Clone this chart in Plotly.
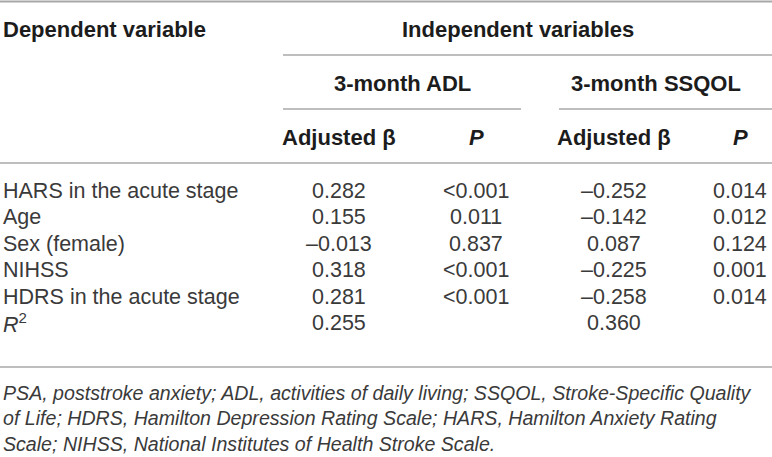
import plotly.graph_objects as go

# table content
row_labels = ["HARS in the acute stage", "Age", "Sex (female)", "NIHSS",
              "HDRS in the acute stage", "<i>R</i><sup>2</sup>"]
adl_beta = ["0.282", "0.155", "–0.013", "0.318", "0.281", "0.255"]
adl_p = ["&lt;0.001", "0.011", "0.837", "&lt;0.001", "&lt;0.001", ""]
ssqol_beta = ["–0.252", "–0.142", "0.087", "–0.225", "–0.258", "0.360"]
ssqol_p = ["0.014", "0.012", "0.124", "0.001", "0.014", ""]

dep_title = "Dependent variable"
indep_title = "Independent variables"
group_titles = ["3-month ADL", "3-month SSQOL"]
col_titles = ["Adjusted β", "<i>P</i>", "Adjusted β", "<i>P</i>"]

footnote = ("PSA, poststroke anxiety; ADL, activities of daily living; SSQOL, Stroke-Specific Quality<br>"
            "of Life; HDRS, Hamilton Depression Rating Scale; HARS, Hamilton Anxiety Rating<br>"
            "Scale; NIHSS, National Institutes of Health Stroke Scale.")

W, H = 772, 457
FONT = "Liberation Sans, Arial, sans-serif"
BOLD_COL = "#1c1c1c"
BODY_COL = "#3a3a3a"
RULE_COL = "#a8a8a8"

col_x = [339, 476, 614, 740]
group_x = [402, 656]
row_y0, row_step = 191, 26.4

fig = go.Figure()
fig.update_xaxes(range=[0, W], visible=False, fixedrange=True)
fig.update_yaxes(range=[H, 0], visible=False, fixedrange=True)

def txt(x, y, s, bold=False, size=21.5, anchor="center", color=None):
    fig.add_annotation(x=x, y=y, text=f"<b>{s}</b>" if bold else s, showarrow=False,
                       xanchor=anchor, yanchor="middle", align="left",
                       font=dict(family=FONT, size=size,
                                 color=color or (BOLD_COL if bold else BODY_COL)))

def rule(x0, x1, y, w=1.6):
    fig.add_shape(type="line", x0=x0, x1=x1, y0=y, y1=y,
                  line=dict(color=RULE_COL, width=w))

# header
txt(1, 29, dep_title, bold=True, size=22, anchor="left")
txt(518, 29, indep_title, bold=True, size=22)
for gx, g in zip(group_x, group_titles):
    txt(gx, 83, g, bold=True, size=22)
for cx, c in zip(col_x, col_titles):
    txt(cx, 137, c, bold=True, size=22)

# rules
rule(0, W, 1.5, 2.2)
rule(283, W, 55)
rule(283, 521, 109)
rule(559, W, 109)
rule(0, W, 163)
rule(0, W, 367)

# body
for i, lab in enumerate(row_labels):
    y = row_y0 + i * row_step
    txt(1, y, lab, anchor="left")
    for cx, col in zip(col_x, [adl_beta, adl_p, ssqol_beta, ssqol_p]):
        if col[i]:
            txt(cx, y, col[i])

fig.add_annotation(x=1, y=380, text=f"<i>{footnote}</i>", showarrow=False,
                   xanchor="left", yanchor="top", align="left",
                   font=dict(family=FONT, size=19.6, color=BODY_COL))

fig.update_layout(width=W, height=H, margin=dict(l=0, r=0, t=0, b=0),
                  paper_bgcolor="white", plot_bgcolor="white", showlegend=False)
fig.write_html("out.html", config={"displayModeBar": False},
               post_script="document.body.style.margin='0';")
